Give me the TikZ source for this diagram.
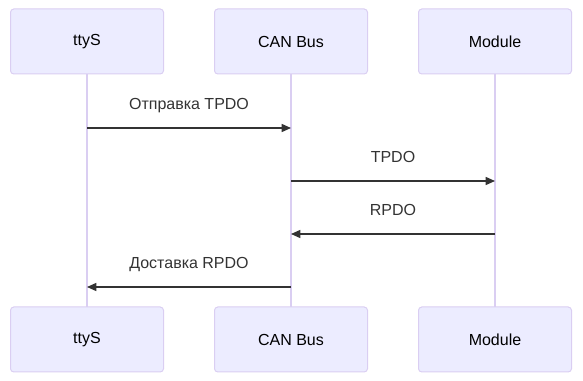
\documentclass[tikz,border=0pt]{standalone}
\usepackage{fontspec}
\setmainfont{Liberation Sans}
\usetikzlibrary{arrows.meta}
\definecolor{actfill}{HTML}{ECECFF}
\definecolor{actline}{HTML}{DACEF2}
\definecolor{msgline}{HTML}{333333}

\begin{document}
\begin{tikzpicture}[x=0.75pt, y=-0.75pt,
      actor/.style={rounded corners=2.5pt, draw=actline, fill=actfill, line width=0.75pt, minimum width=114.75pt, minimum height=48.75pt, font=\fontsize{12}{14}\selectfont, text=black},
      life/.style={draw=actline, line width=1.2pt},
      msg/.style={draw=msgline, line width=1.1pt, -{Triangle[length=7pt, width=6pt]}},
      lbl/.style={midway, anchor=base, yshift=13.5pt, font=\fontsize{12}{14}\selectfont, text=msgline}
    ]
      \useasboundingbox (0,0) rectangle (583,381);

      % lifelines
      \coordinate (ttyS) at (87,74);
      \coordinate (canB) at (291,74);
      \coordinate (modl) at (495,74);
      \draw[life] (ttyS) -- (ttyS |- 0,307);
      \draw[life] (canB) -- (canB |- 0,307);
      \draw[life] (modl) -- (modl |- 0,307);

      % actors, top and bottom
      \node[actor] (ttyTop) at (87,41.5) {ttyS};
      \node[actor] (canTop) at (291,41.5) {CAN Bus};
      \node[actor] (modTop) at (495,41.5) {Module};
      \node[actor] (ttyBot) at (87,339.5) {ttyS};
      \node[actor] (canBot) at (291,339.5) {CAN Bus};
      \node[actor] (modBot) at (495,339.5) {Module};

      % messages
      \draw[msg] (ttyTop |- 0,128) -- node[lbl] {Отправка TPDO} (canTop |- 0,128);
      \draw[msg] (canTop |- 0,181) -- node[lbl] {TPDO} (modTop |- 0,181);
      \draw[msg] (modTop |- 0,234) -- node[lbl] {RPDO} (canTop |- 0,234);
      \draw[msg] (canTop |- 0,287) -- node[lbl] {Доставка RPDO} (ttyTop |- 0,287);
    \end{tikzpicture}
\end{document}
